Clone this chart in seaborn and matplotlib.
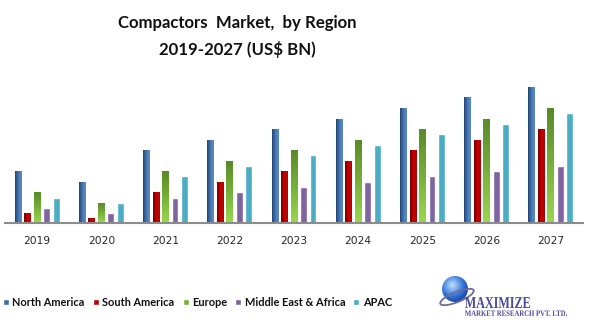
import numpy as np
import pandas as pd
import matplotlib
matplotlib.use("Agg")
import matplotlib.pyplot as plt
import seaborn as sns
from matplotlib.colors import LinearSegmentedColormap
from matplotlib.patches import Circle, Ellipse, PathPatch
from matplotlib.textpath import TextPath
from matplotlib.font_manager import FontProperties
from matplotlib.transforms import Affine2D

# Market size by region (US$ BN)
years = ["2019", "2020", "2021", "2022", "2023", "2024", "2025", "2026", "2027"]
regions = ["North America", "South America", "Europe", "Middle East & Africa", "APAC"]
north_america = [5.2, 4.1, 7.3, 8.3, 9.4, 10.4, 11.5, 12.6, 13.6]
south_america = [1.0, 0.5, 3.1, 4.1, 5.2, 6.2, 7.3, 8.3, 9.4]
europe = [3.1, 2.0, 5.2, 6.2, 7.3, 8.3, 9.4, 10.4, 11.5]
middle_east_africa = [1.5, 1.0, 2.5, 3.1, 3.6, 4.1, 4.7, 5.2, 5.7]
apac = [2.5, 2.0, 4.7, 5.7, 6.8, 7.8, 8.9, 9.9, 11.0]

series = [north_america, south_america, europe, middle_east_africa, apac]
df = pd.DataFrame(
    [(y, r, v) for r, vals in zip(regions, series) for y, v in zip(years, vals)],
    columns=["Year", "Region", "Value"],
)

palette = {
    "North America": "#3F6DAA",
    "South America": "#C00000",
    "Europe": "#77B03A",
    "Middle East & Africa": "#8064A2",
    "APAC": "#4BACC6",
}
# shading for the bars: (direction, colour stops)
shading = {
    "North America": ("h", ["#21426F", "#4777B3", "#5B8CC8"]),
    "South America": ("h", ["#700000", "#C80000", "#B00000"]),
    "Europe": ("v", ["#9AD650", "#77B03A", "#5A8A28"]),
}

sns.set_theme(style="white")
plt.rcParams["font.family"] = ["DejaVu Sans"]

fig = plt.figure(figsize=(5.91, 3.26), dpi=100)
ax = fig.add_axes([5 / 591, 103 / 326, 578 / 591, 145 / 326])

sns.barplot(
    data=df, x="Year", y="Value", hue="Region", order=years, hue_order=regions,
    palette=palette, width=0.74, gap=0.28, saturation=1, ax=ax, legend=True,
)

for region, cont in zip(regions, ax.containers):
    if region not in shading:
        continue
    direction, stops = shading[region]
    cmap = LinearSegmentedColormap.from_list(region, stops)
    grad = np.linspace(0, 1, 64)
    img = grad[None, :] if direction == "h" else grad[:, None]
    for bar in cont:
        x, w, h = bar.get_x(), bar.get_width(), bar.get_height()
        im = ax.imshow(img, cmap=cmap, extent=[x, x + w, 0, h], aspect="auto",
                       origin="lower", zorder=bar.get_zorder() + 0.1,
                       interpolation="bicubic")
        im.set_clip_path(bar)

ax.set_xlim(-0.5, len(years) - 0.5)
ax.set_ylim(0, 14.5)
ax.set_xlabel("")
ax.set_ylabel("")
ax.set_yticks([])
for s in ["top", "right", "left"]:
    ax.spines[s].set_visible(False)
ax.spines["bottom"].set_color("#8C8C8C")
ax.spines["bottom"].set_linewidth(1.5)
ax.tick_params(axis="x", length=0, pad=9.5, labelsize=7.7, labelcolor="#262626")

handles, labels = ax.get_legend_handles_labels()
ax.get_legend().remove()
leg = fig.legend(
    handles, labels, loc="center left", bbox_to_anchor=(-0.008, 0.072),
    ncol=5, frameon=False, handlelength=0.55, handleheight=0.55,
    handletextpad=0.3, columnspacing=0.75, borderpad=0.2,
    prop={"family": "Lato", "weight": "bold", "size": 7.9},
)
for t in leg.get_texts():
    t.set_color("#111111")

fig.text(237 / 591, 1 - 23 / 326, "Compactors  Market,  by Region", ha="center",
         va="center", fontsize=12.1, fontweight="bold", family="Lato", color="#111111")
fig.text(237 / 591, 1 - 50 / 326, "2019-2027 (US$ BN)", ha="center",
         va="center", fontsize=12.1, fontweight="bold", family="Lato", color="#111111")

# company mark (axes units are pixels)
lax = fig.add_axes([430 / 591, 0, 161 / 591, 52 / 326])
lax.set_xlim(0, 161)
lax.set_ylim(0, 52)
lax.axis("off")
globe = Circle((25, 37), 13, transform=lax.transData)
yy, xx = np.mgrid[0:1:80j, 0:1:80j]
rad = np.sqrt((xx - 0.4) ** 2 + (yy - 0.65) ** 2)
gcmap = LinearSegmentedColormap.from_list("globe", ["#BFE0FF", "#2F6FD6", "#0A1F6E"])
gim = lax.imshow(rad, cmap=gcmap, extent=[12, 38, 24, 50], origin="lower",
                 aspect="auto", interpolation="bicubic", zorder=2)
gim.set_clip_path(globe)
lax.add_patch(Ellipse((27, 29), 36, 10, angle=22, fill=False, ec="#6C6C9A",
                      lw=1.3, zorder=3))


def boxed_text(axis, text, x0, y0, width, height, color):
    """Draw text stretched to fill the box (x0, y0, width, height)."""
    prop = FontProperties(family="Liberation Serif", weight="bold")
    path = TextPath((0, 0), text, size=10, prop=prop)
    ext = path.get_extents()
    tr = (Affine2D().translate(-ext.x0, -ext.y0)
          .scale(width / ext.width, height / ext.height)
          .translate(x0, y0))
    axis.add_patch(PathPatch(tr.transform_path(path), fc=color, ec="none",
                             zorder=4))


boxed_text(lax, "MAXIMIZE", 35, 18, 65, 11, "#4A4A9C")
boxed_text(lax, "MARKET RESEARCH PVT. LTD.", 35, 10, 102, 5.5, "#4A4A9C")

fig.savefig("out.png", dpi=100)
